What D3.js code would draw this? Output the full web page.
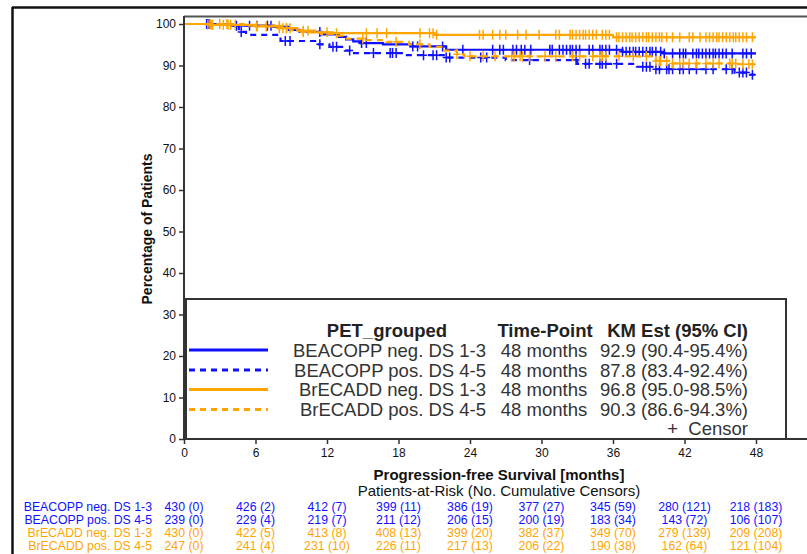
<!DOCTYPE html>
<html><head><meta charset="utf-8">
<script src="https://cdn.jsdelivr.net/npm/d3@7"></script>
<style>body{margin:0;background:#fff}svg{display:block}</style>
</head><body><svg id="c" width="807" height="554"></svg>
<script>
// ---------- data ----------
const groups = ["BEACOPP neg. DS 1-3","BEACOPP pos. DS 4-5","BrECADD neg. DS 1-3","BrECADD pos. DS 4-5"];
const kmEst = ["92.9 (90.4-95.4%)","87.8 (83.4-92.4%)","96.8 (95.0-98.5%)","90.3 (86.6-94.3%)"];
const timePoint = "48 months";
const months = [0,6,12,18,24,30,36,42,48];
const yTicks = [0,10,20,30,40,50,60,70,80,90,100];

// step functions (time in months, survival %)
const bnT = [0,4.0,7.5,8.8,9.7,11.5,13.0,13.6,14.2,14.8,16.7,19.0,22.0,36.8,40.3];
const bnS = [100,99.6,99.3,98.6,98.1,97.5,96.9,96.3,95.8,95.4,95.1,94.6,93.8,93.3,92.9];
const bpT = [0,4.6,5.2,8.1,11.0,12.2,13.5,14.0,18.6,22.0,27.0,33.0,38.0,39.4,46.2,47.5];
const bpS = [100,98.1,97.4,95.9,95.1,94.5,93.6,93.0,92.5,91.9,91.3,90.4,89.7,89.1,88.3,87.8];
const enT = [0,2.0,6.0,8.0,9.5,11.0,12.5,21.0,36.0];
const enS = [100,99.8,99.4,99.0,98.4,98.0,97.8,97.4,96.8];
const epT = [0,5.0,8.2,9.0,10.0,11.5,12.6,13.5,15.3,17.0,18.9,20.6,21.6,22.9,23.5,39.6,40.8,46.5];
const epS = [100,99.6,99.0,98.5,98.0,97.6,97.2,96.5,96.1,95.7,95.1,94.5,93.6,92.7,92.2,91.1,90.5,90.3];
const endT = [48.0,47.9,48.0,48.0];

// censor times
const bnC = [1.9,2.1,4.4,5.5,6.1,7.0,7.3,11.4,14.9,15.3,19.2,19.6,21.7,23.4,25.9,26.5,26.8,27.6,27.9,28.3,28.6,29.1,30.7,30.9,31.5,31.8,32.1,32.4,32.6,32.9,33.2,34.0,34.3,34.9,35.1,35.4,35.7,36.3,36.8,37.1,37.4,37.7,37.9,38.2,38.5,38.8,39.1,39.3,39.6,40.0,40.3,41.0,41.6,41.9,42.1,42.7,43.0,43.2,43.5,43.8,44.1,44.4,44.6,44.9,45.2,45.5,46.0,46.9,47.2,47.6];
const bpC = [2.0,4.8,8.5,8.9,11.4,12.5,12.8,13.9,15.9,17.3,17.5,17.8,20.1,20.9,21.2,22.0,22.3,24.9,25.4,29.0,32.9,33.7,34.0,34.9,35.1,35.4,36.3,38.5,38.8,39.1,39.6,39.9,40.5,40.7,41.0,41.6,41.9,42.4,43.0,43.8,44.4,45.5,46.0,46.6,46.9,47.2,47.7];
const enC = [2.0,2.3,2.4,3.3,3.7,3.9,4.3,6.1,6.9,8.0,8.3,8.6,8.9,10.0,10.4,12.0,12.8,15.3,16.2,17.0,19.8,20.6,20.9,21.2,24.8,25.1,25.9,26.5,27.0,28.0,28.7,29.8,31.2,31.5,32.4,32.6,32.9,33.2,33.5,33.7,34.0,34.3,34.6,35.1,35.4,35.7,36.3,36.5,36.8,37.1,37.4,37.6,37.9,38.2,38.5,38.8,39.0,39.3,39.6,39.9,40.1,40.5,41.0,41.6,42.4,42.7,43.3,43.8,44.1,44.4,44.7,44.9,45.2,45.5,45.8,46.1,46.3,46.6,46.9,47.2,47.7];
const epC = [2.2,3.0,3.6,8.0,8.6,10.0,15.0,17.8,19.8,22.9,24.0,25.1,26.1,27.5,27.7,28.2,28.4,29.0,30.3,31.2,32.6,33.2,34.3,34.9,35.1,35.4,36.5,37.7,38.8,39.6,39.9,40.0,40.5,41.0,41.6,41.9,42.4,43.0,43.8,44.4,44.9,45.8,46.0,46.3,46.9,47.4,47.7];

// patients at risk (cumulative censors)
const riskBn = [430,426,412,399,386,377,345,280,218], cenBn = [0,2,7,11,19,27,59,121,183];
const riskBp = [239,229,219,211,206,200,183,143,106], cenBp = [0,4,7,12,15,19,34,72,107];
const riskEn = [430,422,413,408,399,382,349,279,209], cenEn = [0,5,8,13,20,37,70,139,208];
const riskEp = [247,241,231,226,217,206,190,162,121], cenEp = [0,4,10,11,13,22,38,64,104];

// ---------- styles ----------
const BLUE = "#1010ff", ORANGE = "#ffa500";
const series = [
  {t:bnT, s:bnS, c:bnC, end:endT[0], color:BLUE,   dash:null},
  {t:bpT, s:bpS, c:bpC, end:endT[1], color:BLUE,   dash:"6,5"},
  {t:enT, s:enS, c:enC, end:endT[2], color:ORANGE, dash:null},
  {t:epT, s:epS, c:epC, end:endT[3], color:ORANGE, dash:"6,5"}
];
const risks = [[riskBn,cenBn,BLUE],[riskBp,cenBp,BLUE],[riskEn,cenEn,ORANGE],[riskEp,cenEp,ORANGE]];
const FONT = "'Liberation Sans', Arial, sans-serif";

const svg = d3.select("#c").style("font-family", FONT);
const x = d3.scaleLinear().domain([0,48]).range([184,756]);
const y = d3.scaleLinear().domain([0,100]).range([439,24]);

// outer frame
svg.append("line").attr("x1",12).attr("x2",807).attr("y1",7.5).attr("y2",7.5).attr("stroke","#111").attr("stroke-width",2.5);
svg.append("line").attr("x1",12.5).attr("x2",12.5).attr("y1",7).attr("y2",554).attr("stroke","#111").attr("stroke-width",2.5);
// plot top border
svg.append("line").attr("x1",184).attr("x2",807).attr("y1",16.5).attr("y2",16.5).attr("stroke","#555").attr("stroke-width",2);

// curves
const line = d3.line().x(d=>x(d[0])).y(d=>y(d[1])).curve(d3.curveStepAfter);
function valAt(sr, t){ const i = d3.bisectRight(sr.t, t) - 1; return sr.s[Math.max(0,i)]; }
const order = [0,1,3,2];
order.forEach(k => {
  const sr = series[k];
  const pts = sr.t.map((t,i)=>[t, sr.s[i]]);
  pts.push([sr.end, sr.s[sr.s.length-1]]);
  const g = svg.append("g");
  g.append("path").attr("d", line(pts)).attr("fill","none").attr("stroke", sr.color)
    .attr("stroke-width", 2.2).attr("stroke-dasharray", sr.dash);
  g.selectAll("path.cz").data(sr.c).enter().append("path").attr("class","cz")
    .attr("d", t => { const cx = x(t), cy = y(valAt(sr,t)); return `M${cx-3.5},${cy}H${cx+3.5}M${cx},${cy-5}V${cy+5}`; })
    .attr("stroke", sr.color).attr("stroke-width", 1.5).attr("fill","none");
});

// legend box
const lg = svg.append("g");
lg.append("rect").attr("x",186).attr("y",299).attr("width",600).attr("height",140)
  .attr("fill","#fff").attr("stroke","#333").attr("stroke-width",2);
lg.append("text").attr("x",387).attr("y",336.5).attr("text-anchor","middle").attr("font-weight","bold").attr("font-size",18.5).attr("fill","#222").text("PET_grouped");
lg.append("text").attr("x",545).attr("y",336.5).attr("text-anchor","middle").attr("font-weight","bold").attr("font-size",18.5).attr("fill","#222").text("Time-Point");
lg.append("text").attr("x",748).attr("y",336.5).attr("text-anchor","end").attr("font-weight","bold").attr("font-size",18.5).attr("fill","#222").text("KM Est (95% CI)");
const rowY = [350,370,389.5,409.5];
groups.forEach((gname,i) => {
  const sr = series[i];
  lg.append("line").attr("x1",189).attr("x2",268).attr("y1",rowY[i]).attr("y2",rowY[i])
    .attr("stroke",sr.color).attr("stroke-width",3).attr("stroke-dasharray",sr.dash);
  lg.append("text").attr("x",486).attr("y",rowY[i]+6.5).attr("text-anchor","end").attr("font-size",18.5).attr("fill","#333").text(gname);
  lg.append("text").attr("x",544).attr("y",rowY[i]+6.5).attr("text-anchor","middle").attr("font-size",18.5).attr("fill","#333").text(timePoint);
  lg.append("text").attr("x",748).attr("y",rowY[i]+6.5).attr("text-anchor","end").attr("font-size",18.5).attr("fill","#333").text(kmEst[i]);
});
lg.append("text").attr("x",748).attr("y",435).attr("text-anchor","end").attr("font-size",18.5).attr("fill","#333").attr("xml:space","preserve").text("+  Censor");

// axes
svg.append("line").attr("x1",184).attr("x2",184).attr("y1",16).attr("y2",440).attr("stroke","#333").attr("stroke-width",2);
svg.append("line").attr("x1",183).attr("x2",807).attr("y1",439).attr("y2",439).attr("stroke","#333").attr("stroke-width",2);
const ya = svg.append("g").attr("transform","translate(184,0)")
  .call(d3.axisLeft(y).tickValues(yTicks).tickSize(5).tickPadding(3));
ya.select(".domain").remove();
ya.selectAll("text").attr("font-size",12).attr("font-family",FONT).attr("fill","#111");
ya.selectAll("line").attr("stroke","#333").attr("stroke-width",1.5);
const xa = svg.append("g").attr("transform","translate(0,439)")
  .call(d3.axisBottom(x).tickValues(months).tickSize(5).tickPadding(4));
xa.select(".domain").remove();
xa.selectAll("text").attr("font-size",12).attr("font-family",FONT).attr("fill","#111");
xa.selectAll("line").attr("stroke","#333").attr("stroke-width",1.5);

// titles
svg.append("text").attr("transform","translate(152,229) rotate(-90)").attr("text-anchor","middle")
  .attr("font-weight","bold").attr("font-size",14).attr("fill","#111").text("Percentage of Patients");
svg.append("text").attr("x",499).attr("y",480).attr("text-anchor","middle")
  .attr("font-weight","bold").attr("font-size",15).attr("fill","#111").text("Progression-free Survival [months]");
svg.append("text").attr("x",499).attr("y",496).attr("text-anchor","middle")
  .attr("font-size",15).attr("fill","#111").text("Patients-at-Risk (No. Cumulative Censors)");

// at-risk table
const rY = [510.5,523.5,536.5,549.5];
risks.forEach((r,i) => {
  svg.append("text").attr("x",152).attr("y",rY[i]).attr("text-anchor","end").attr("font-size",12.3).attr("fill",r[2]).text(groups[i]);
  svg.append("g").selectAll("text").data(months).enter().append("text")
    .attr("x", m => x(m)).attr("y", rY[i]).attr("text-anchor","middle").attr("font-size",12.3).attr("fill", r[2])
    .text((m,j) => `${r[0][j]} (${r[1][j]})`);
});
</script></body></html>
